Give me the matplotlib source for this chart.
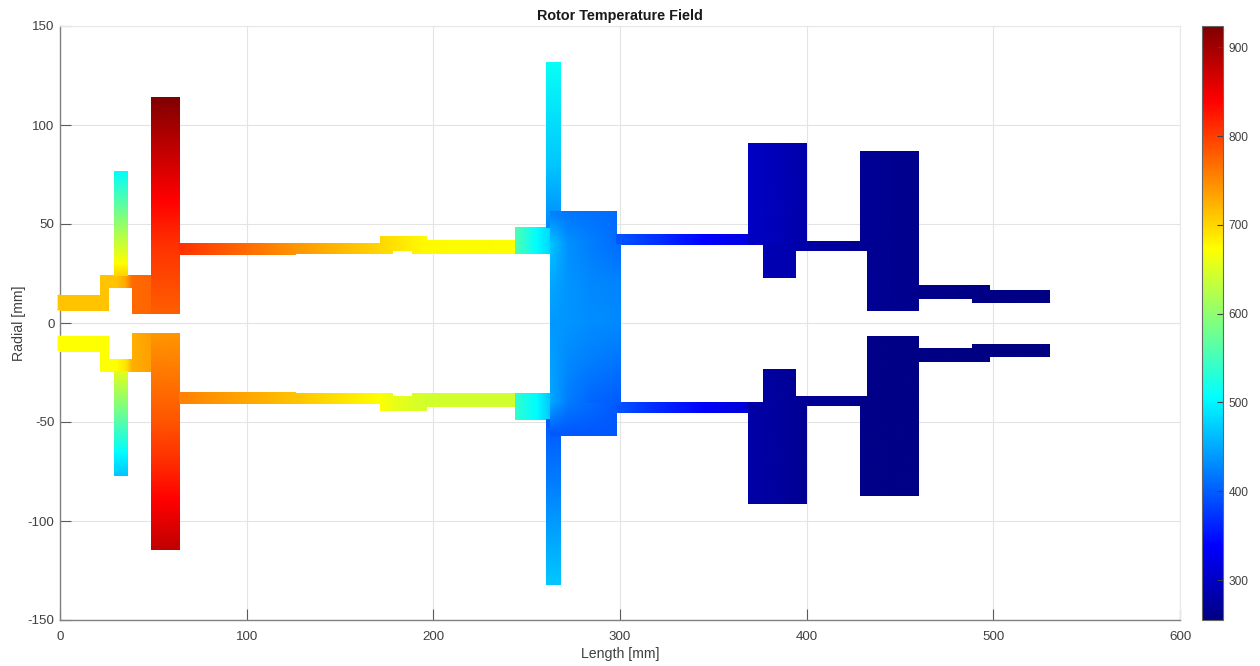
import numpy as np
import matplotlib
matplotlib.use("Agg")
import matplotlib.pyplot as plt
from matplotlib.cm import ScalarMappable
from matplotlib.colors import Normalize, LinearSegmentedColormap
from matplotlib.image import NonUniformImage
from matplotlib.patches import Rectangle

plt.rcParams['font.family'] = ['Liberation Sans', 'DejaVu Sans']
plt.rcParams['axes.unicode_minus'] = False

TITLE = "Rotor Temperature Field"
XLABEL = "Length [mm]"
YLABEL = "Radial [mm]"
XTICKS = [0, 100, 200, 300, 400, 500, 600]
YTICKS = [-150, -100, -50, 0, 50, 100, 150]
CTICKS = [300, 400, 500, 600, 700, 800, 900]
T_MIN, T_MAX = 255, 924

# Each piece: axial edges, radial edges (upper half), temperatures for the upper and lower half.
# A flat list runs along the axial edges, a list of one-item lists runs along the radial edges.
lip_x = [-1, 0.6];              lip_r = [6.6, 14];         lip_up = [712, 712];          lip_lo = [673, 673]
inlet_x = [0, 25.5];            inlet_r = [6.6, 14];       inlet_up = [712, 712];        inlet_lo = [673, 673]
step_x = [21.6, 25.5];          step_r = [13, 19];         step_up = [712, 712];         step_lo = [673, 673]
neck_x = [21.6, 30, 35, 38.4];  neck_r = [18, 24.2];       neck_up = [712, 712, 730, 770]; neck_lo = [673, 673, 690, 725]
vane_x = [28.8, 35.9];          vane_r = [24.2, 30, 76.8]; vane_up = [[700], [673], [505]]
vane2_r = [24.2, 65.6, 76.8];   vane_lo = [[655], [505], [470]]
root_x = [38.4, 48.6];          root_r = [5, 24.2];        root_up = [770, 775];         root_lo = [725, 735]
wheel_x = [48.6, 63.8];         wheel_r = [5, 40, 62, 114.2]; wheel_up = [[778], [808], [840], [924]]
wheel2_r = [5, 49, 70, 89.6, 114.2]; wheel_lo = [[740], [783], [810], [840], [880]]

sh1_x = [63.8, 126];   sh1_r = [34.7, 40.4]; sh1_up = [808, 742]; sh1_lo = [755, 712]
sh2_x = [126, 171.4];  sh2_r = [35.2, 40.4]; sh2_up = [742, 699]; sh2_lo = [712, 673]
sh3_x = [171.4, 177.7]; sh3_r = [35.2, 43.8]; sh3_up = [699, 692]; sh3_lo = [673, 660]
sh4_x = [177.7, 188.4]; sh4_r = [37, 43.8];   sh4_up = [692, 682]; sh4_lo = [660, 650]
sh5_x = [188.4, 195.9]; sh5_r = [35.2, 43.8]; sh5_up = [682, 675]; sh5_lo = [650, 644]
sh6_x = [195.9, 244];   sh6_r = [35.2, 41.8]; sh6_up = [675, 672]; sh6_lo = [644, 642]
stub_x = [243.7, 255, 262.5]; stub_r = [35.2, 48.6]; stub_up = [558, 505, 480]; stub_lo = [537, 505, 470]

blade_x = [260.5, 267.7]; blade_r = [48.6, 80, 131.6]; blade_up = [[430], [470], [512]]; blade_lo = [[395], [420], [470]]
blade_base_x = [262.5, 267.7]; blade_base_r = [39.7, 56.5]; blade_base_up = [[455], [425]]; blade_base_lo = [[445], [395]]
cap_x = [262.5, 272, 298]; cap_r = [39.7, 56.5]
cap_up = [[470, 435, 410], [420, 415, 410]]
cap_lo = [[450, 420, 398], [395, 395, 395]]
hub_x = [262.5, 272, 285, 299.8]
hub_r = [-39.7, -20, 0, 20, 39.7]
hub_t = [[450, 420, 405, 400],
         [445, 430, 420, 415],
         [440, 437, 432, 430],
         [450, 437, 428, 425],
         [470, 435, 420, 410]]

sh7_x = [298, 320, 345, 368.6, 376.8]; sh7_r = [39.7, 45]; sh7_up = [395, 370, 339, 319, 300]; sh7_lo = [395, 365, 335, 312, 295]
d1_x = [368.6, 399.8]; d1_r = [40, 91];   d1_up = [300, 282]; d1_lo = [280, 268]
nub_x = [376.8, 394];  nub_r = [23.2, 40]; nub_up = [290, 284]; nub_lo = [275, 270]
lnk_x = [394, 432.4];  lnk_r = [36.7, 41.6]; lnk_up = [282, 268]; lnk_lo = [270, 262]
d2a_x = [428.6, 432.4]; d2a_r = [36.7, 86.9]; d2a_up = [268, 267]; d2a_lo = [260, 260]
d2_x = [432.4, 459.8]; d2_r = [6.4, 86.9]; d2_up = [267, 262]; d2_lo = [260, 257]
tail_x = [459.8, 497.8]; tail_r = [12.8, 19]; tail_up = [260, 258]; tail_lo = [257, 256]
end_x = [488.6, 530];  end_r = [10.8, 16.7]; end_up = [258, 256]; end_lo = [256, 255]

PIECES = [
    (inlet_x, inlet_r, inlet_up, inlet_r, inlet_lo),
    (step_x, step_r, step_up, step_r, step_lo),
    (neck_x, neck_r, neck_up, neck_r, neck_lo),
    (vane_x, vane_r, vane_up, vane2_r, vane_lo),
    (root_x, root_r, root_up, root_r, root_lo),
    (wheel_x, wheel_r, wheel_up, wheel2_r, wheel_lo),
    (sh1_x, sh1_r, sh1_up, sh1_r, sh1_lo),
    (sh2_x, sh2_r, sh2_up, sh2_r, sh2_lo),
    (sh3_x, sh3_r, sh3_up, sh3_r, sh3_lo),
    (sh4_x, sh4_r, sh4_up, sh4_r, sh4_lo),
    (sh5_x, sh5_r, sh5_up, sh5_r, sh5_lo),
    (sh6_x, sh6_r, sh6_up, sh6_r, sh6_lo),
    (stub_x, stub_r, stub_up, stub_r, stub_lo),
    (blade_x, blade_r, blade_up, blade_r, blade_lo),
    (blade_base_x, blade_base_r, blade_base_up, blade_base_r, blade_base_lo),
    (cap_x, cap_r, cap_up, cap_r, cap_lo),
    (sh7_x, sh7_r, sh7_up, sh7_r, sh7_lo),
    (d1_x, d1_r, d1_up, d1_r, d1_lo),
    (nub_x, nub_r, nub_up, nub_r, nub_lo),
    (lnk_x, lnk_r, lnk_up, lnk_r, lnk_lo),
    (d2a_x, d2a_r, d2a_up, d2a_r, d2a_lo),
    (d2_x, d2_r, d2_up, d2_r, d2_lo),
    (tail_x, tail_r, tail_up, tail_r, tail_lo),
    (end_x, end_r, end_up, end_r, end_lo),
]

W, H = 1260, 666
fig = plt.figure(figsize=(W / 100, H / 100), dpi=100)
ax = fig.add_axes([60 / W, (H - 620) / H, 1120 / W, 594 / H])
norm = Normalize(T_MIN, T_MAX)
# MATLAB-style jet
cmap = LinearSegmentedColormap.from_list("jet_m", [
    (0.0, (0, 0, 0.5156)), (0.125, (0, 0, 1)), (0.375, (0, 1, 1)),
    (0.625, (1, 1, 0)), (0.875, (1, 0, 0)), (1.0, (0.5, 0, 0))], N=512)


def field(xs, rs, temps):
    xs = np.asarray(xs, float)
    rs = np.asarray(rs, float)
    t = np.asarray(temps, float)
    if t.ndim == 1:
        t = t[None, :]
    t = np.broadcast_to(t, (len(rs), len(xs)))
    if rs[0] > rs[-1]:
        rs = rs[::-1]
        t = t[::-1]
    return xs, rs, t


def draw(xs, rs, temps):
    xs, rs, t = field(xs, rs, temps)
    im = NonUniformImage(ax, interpolation="bilinear", cmap=cmap, norm=norm, zorder=3)
    im.set_data(xs, rs, t)
    ax.add_image(im)
    im.set_clip_path(Rectangle((xs[0], rs[0]), xs[-1] - xs[0], rs[-1] - rs[0], transform=ax.transData))


ax.set_xlim(0, 600)
ax.set_ylim(-150, 150)

for xs, r_up, t_up, r_lo, t_lo in PIECES:
    draw(xs, r_up, t_up)
    draw(xs, -np.asarray(r_lo, float), t_lo)
draw(hub_x, hub_r, hub_t)

# the part of the inlet that crosses the left axis
for r, t in ((lip_r, lip_up), (-np.asarray(lip_r, float), lip_lo)):
    xs, rs, tt = field(lip_x, r, t)
    xx, rr = np.meshgrid(xs, rs)
    ax.pcolormesh(xx, rr, tt, shading="gouraud", cmap=cmap, norm=norm, zorder=3, clip_on=False)

ax.set_xlim(0, 600)
ax.set_ylim(-150, 150)
ax.set_aspect("auto")
ax.set_xticks(XTICKS)
ax.set_yticks(YTICKS)
ax.set_axisbelow(True)
ax.grid(True, color="#e4e4e4", linewidth=0.8)
ax.tick_params(axis="both", direction="in", length=7.8, width=0.8, color="#5a5a5a",
               labelcolor="#404040", labelsize=9.6, pad=4)
ax.tick_params(axis="x", pad=8)
for s in ("left", "bottom"):
    ax.spines[s].set_color("#808080")
    ax.spines[s].set_linewidth(1.0)
for s in ("right", "top"):
    ax.spines[s].set_color("#e8e8e8")
    ax.spines[s].set_linewidth(0.8)

ax.set_title(TITLE, fontsize=10.4, fontweight="bold", color="#1a1a1a", pad=4)
ax.set_xlabel(XLABEL, fontsize=10.2, color="#404040", labelpad=3)
ax.set_ylabel(YLABEL, fontsize=10.2, color="#404040", labelpad=1)

cax = fig.add_axes([1202 / W, (H - 620) / H, 21 / W, 594 / H])
cb = fig.colorbar(ScalarMappable(norm=norm, cmap=cmap), cax=cax)
cb.set_ticks(CTICKS)
cax.tick_params(direction="in", length=4, width=0.8, color="#404040",
                labelcolor="#404040", labelsize=8.6, pad=4)
cb.outline.set_edgecolor("#666666")
cb.outline.set_linewidth(0.8)

fig.savefig("out.png", dpi=100)
